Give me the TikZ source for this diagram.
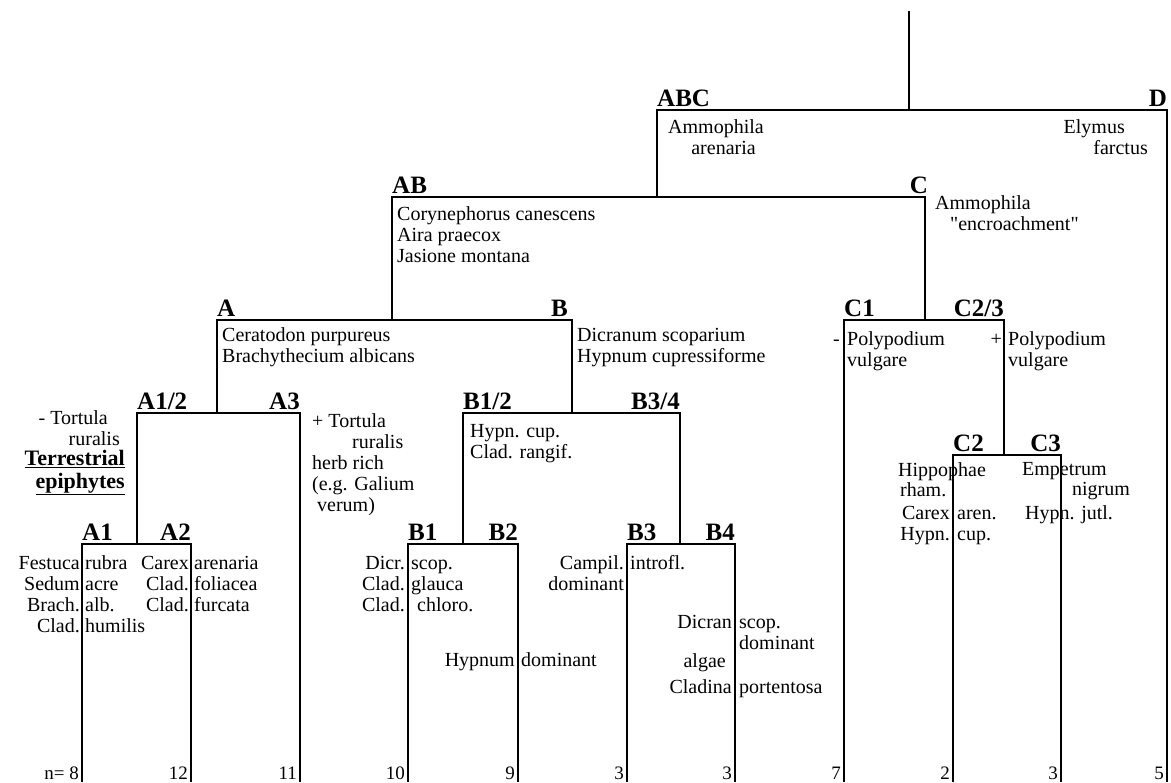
\documentclass[tikz,border=0pt]{standalone}
\usepackage{fontspec}
\setmainfont{Liberation Serif}
\begin{document}
\begin{tikzpicture}[x=1pt,y=-1pt,
    branch/.style={line width=1.3pt,line cap=rect},
    grp/.style={font=\fontsize{25}{25}\selectfont\bfseries,inner sep=0pt,yshift=3pt},
    txt/.style={font=\fontsize{20}{21}\selectfont,inner sep=0pt,align=left},
    rtxt/.style={txt,align=right},
    cnt/.style={font=\fontsize{19}{19}\selectfont,inner sep=0pt,anchor=base east,
      xshift=-3pt,yshift=2pt}]
  \useasboundingbox (0,0) rectangle (1171,783);
  \def\ybot{781}

  % junctions and bar ends
  \coordinate (top) at (909,12);
  \coordinate (ABC) at (657,110);  \coordinate (D) at (1167,110);
  \coordinate (AB) at (392,197);   \coordinate (C) at (925,197);
  \coordinate (A) at (217,320);    \coordinate (B) at (572,320);
  \coordinate (C1) at (844,320);   \coordinate (C23) at (1004,320);
  \coordinate (A12) at (137,413);  \coordinate (A3) at (300,413);
  \coordinate (B12) at (463,413);  \coordinate (B34) at (680,413);
  \coordinate (A1) at (82,544);    \coordinate (A2) at (191,544);
  \coordinate (B1) at (408,544);   \coordinate (B2) at (518,544);
  \coordinate (B3) at (627,544);   \coordinate (B4) at (735,544);
  \coordinate (C2) at (953,455);   \coordinate (C3) at (1061,455);
  \coordinate (bot) at (0,\ybot);

  % tree
  \draw[branch] (top) -- (top |- ABC);
  \draw[branch] (ABC) -- (D);
  \draw[branch] (ABC) -- (ABC |- AB);
  \draw[branch] (AB) -- (C);
  \draw[branch] (AB) -- (AB |- A);
  \draw[branch] (A) -- (B);
  \draw[branch] (C) -- (C |- C1);
  \draw[branch] (C1) -- (C23);
  \draw[branch] (A) -- (A |- A12);
  \draw[branch] (A12) -- (A3);
  \draw[branch] (B) -- (B |- B12);
  \draw[branch] (B12) -- (B34);
  \draw[branch] (A12) -- (A12 |- A1);
  \draw[branch] (A1) -- (A2);
  \draw[branch] (B12) -- (B12 |- B1);
  \draw[branch] (B1) -- (B2);
  \draw[branch] (B34) -- (B34 |- B3);
  \draw[branch] (B3) -- (B4);
  \draw[branch] (C23) -- (C23 |- C2);
  \draw[branch] (C2) -- (C3);
  \foreach \leaf/\cnt in {A1/{n= 8},A2/12,A3/11,B1/10,B2/9,B3/3,B4/3,C1/7,C2/2,C3/3,D/5}{
    \draw[branch] (\leaf) -- (\leaf |- bot);
    \node[cnt] (n\leaf) at (\leaf |- bot) {\cnt};
  }

  % group labels
  \node[grp,anchor=base west] (lABC) at (ABC) {ABC};
  \node[grp,anchor=base east] (lD) at (D) {D};
  \node[grp,anchor=base west] (lAB) at (AB) {AB};
  \node[grp,anchor=base east,xshift=3pt] (lC) at (C) {C};
  \node[grp,anchor=base west] (lA) at (A) {A};
  \node[grp,anchor=base east,xshift=-4pt] (lB) at (B) {B};
  \node[grp,anchor=base west] (lC1) at (C1) {C1};
  \node[grp,anchor=base east] (lC23) at (C23) {C2/3};
  \node[grp,anchor=base west] (lA12) at (A12) {A1/2};
  \node[grp,anchor=base east] (lA3) at (A3) {A3};
  \node[grp,anchor=base west] (lB12) at (B12) {B1/2};
  \node[grp,anchor=base east] (lB34) at (B34) {B3/4};
  \node[grp,anchor=base west] (lA1) at (A1) {A1};
  \node[grp,anchor=base east] (lA2) at (A2) {A2};
  \node[grp,anchor=base west] (lB1) at (B1) {B1};
  \node[grp,anchor=base east] (lB2) at (B2) {B2};
  \node[grp,anchor=base west] (lB3) at (B3) {B3};
  \node[grp,anchor=base east] (lB4) at (B4) {B4};
  \node[grp,anchor=base west] (lC2) at (C2) {C2};
  \node[grp,anchor=base east] (lC3) at (C3) {C3};

  % species
  \node[rtxt,anchor=north west] (ammo) at (668,119) {\strut Ammophila\\arenaria\hspace*{8pt}};
  \node[rtxt,anchor=north east] (elym) at (1148,119) {\strut Elymus\hspace*{23pt}\\farctus};
  \node[txt,anchor=north west] (cory) at (397,206) {\strut Corynephorus canescens\\Aira praecox\\Jasione montana};
  \node[txt,anchor=north west] (encr) at (935,195)
    {\strut Ammophila\\\hspace*{15pt}\textquotedbl encroachment\textquotedbl};
  \node[txt,anchor=north west] (cera) at (222,327) {\strut Ceratodon purpureus\\Brachythecium albicans};
  \node[txt,anchor=north west] (dicr) at (577,327) {\strut Dicranum scoparium\\Hypnum cupressiforme};
  \node[txt,anchor=north east] (minC1) at (840,331) {\strut -};
  \node[txt,anchor=north west] (polC1) at (847,331) {\strut Polypodium\\vulgare};
  \node[txt,anchor=north east] (plusC23) at (1002,331) {\strut +};
  \node[txt,anchor=north west] (polC23) at (1008,331) {\strut Polypodium\\vulgare};
  \node[rtxt,anchor=north east] (tortA12) at (120,410) {\strut - Tortula\hspace*{12pt}\\ruralis};
  \node[inner sep=0pt,align=right,anchor=north east,
    font=\fontsize{22}{21}\selectfont\bfseries] (terr) at (125,450)
    {\strut\underline{Terrestrial}\\\underline{epiphytes}};
  \node[txt,anchor=north west] (tortA3) at (312,413)
    {\strut + Tortula\\\hspace*{40pt}ruralis\\herb rich\\(e.g. Galium\\\hspace*{5pt}verum)};
  \node[txt,anchor=north west] (hypB12) at (470,423) {\strut Hypn. cup.\\Clad. rangif.};

  % leaves A
  \node[rtxt,anchor=north east] (a1l) at (80,555) {\strut Festuca\\Sedum\\Brach.\\Clad.};
  \node[txt,anchor=north west] (a1r) at (85,555) {\strut rubra\\acre\\alb.\\humilis};
  \node[rtxt,anchor=north east] (a2l) at (189,555) {\strut Carex\\Clad.\\Clad.};
  \node[txt,anchor=north west] (a2r) at (194,555) {\strut arenaria\\foliacea\\furcata};
  % leaves B
  \node[rtxt,anchor=north east] (b1l) at (405,555) {\strut Dicr.\\Clad.\\Clad.};
  \node[txt,anchor=north west] (b1r) at (411,555) {\strut scop.\\glauca\\\hspace*{6pt}chloro.};
  \node[rtxt,anchor=north east] (b2l) at (515,652) {\strut Hypnum};
  \node[txt,anchor=north west] (b2r) at (521,652) {\strut dominant};
  \node[rtxt,anchor=north east] (b3l) at (624,555) {\strut Campil.\\dominant};
  \node[txt,anchor=north west] (b3r) at (630,555) {\strut introfl.};
  \node[rtxt,anchor=north east] (b4l) at (732,614) {\strut Dicran};
  \node[txt,anchor=north west] (b4r) at (739,614) {\strut scop.\\dominant};
  \node[rtxt,anchor=north east] (b4a) at (726,653) {\strut algae};
  \node[rtxt,anchor=north east] (b4cl) at (732,679) {\strut Cladina};
  \node[txt,anchor=north west] (b4cr) at (739,679) {\strut portentosa};
  % leaves C
  \node[txt,anchor=north west] (c2a) at (898,462) {Hippophae};
  \node[txt,anchor=north west] (c2b) at (900,482) {rham.};
  \node[rtxt,anchor=north east] (c2l) at (950,505) {\strut Carex\\Hypn.};
  \node[txt,anchor=north west] (c2r) at (957,505) {\strut aren.\\cup.};
  \node[txt,anchor=north west] (c3a) at (1022,462) {Empetrum};
  \node[rtxt,anchor=north east] (c3b) at (1130,481) {\strut nigrum};
  \node[txt,anchor=north west] (c3c) at (1025,505) {\strut Hypn. jutl.};
\end{tikzpicture}
\end{document}
